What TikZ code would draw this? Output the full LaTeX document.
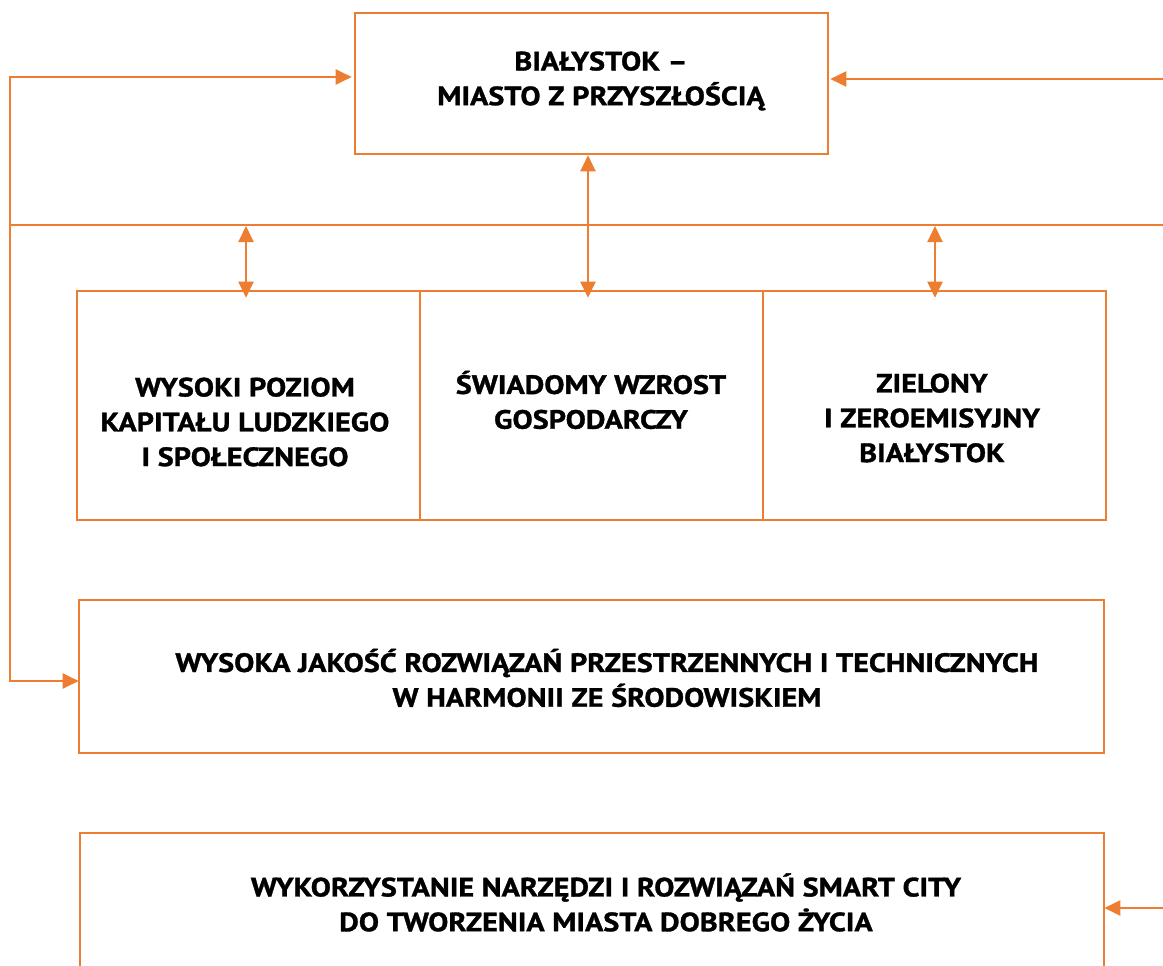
\documentclass[tikz,border=0pt]{standalone}
\usepackage{fontspec}
\setmainfont{PT Sans}[FakeStretch=1.14,BoldFeatures={FakeBold=1.2}]
\usetikzlibrary{arrows.meta}
\definecolor{org}{HTML}{ED7D31}
\begin{document}
\begin{tikzpicture}[x=1pt,y=-1pt,
  box/.style={draw=org,line width=2.6pt,inner sep=0pt},
  lbl/.style={font=\fontsize{26.5}{34.8}\selectfont\bfseries,align=center,inner sep=0pt},
  conn/.style={draw=org,line width=2pt},
  tip/.style={-{Triangle[length=16pt,width=15pt]}},
  dtip/.style={{Triangle[length=16pt,width=15pt]}-{Triangle[length=16pt,width=15pt]}}]
\fill[white] (0,0) rectangle (1163,966);
\useasboundingbox (0,0) rectangle (1163,966);
\clip (0,0) rectangle (1163,966);
% boxes
\node[box,minimum width=473pt,minimum height=141pt] (top) at (591.5,83.5) {};
\node[box,minimum width=343pt,minimum height=229pt] (b1) at (248.5,405.5) {};
\node[box,minimum width=343pt,minimum height=229pt] (b2) at (591.5,405.5) {};
\node[box,minimum width=343pt,minimum height=229pt] (b3) at (934.5,405.5) {};
\node[box,minimum width=1025pt,minimum height=153pt] (b4) at (591.5,676.5) {};
\node[box,minimum width=1024pt,minimum height=200pt] (b5) at (592,933) {};
% texts
\node[lbl] (ttop) at (601,81) {BIAŁYSTOK –\\MIASTO Z PRZYSZŁOŚCIĄ};
\node[lbl] (t1) at (245,422) {WYSOKI POZIOM\\KAPITAŁU LUDZKIEGO\\I SPOŁECZNEGO};
\node[lbl] (t2) at (591,400) {ŚWIADOMY WZROST\\GOSPODARCZY};
\node[lbl] (t3) at (932,418) {ZIELONY\\I ZEROEMISYJNY\\BIAŁYSTOK};
\node[lbl] (t4) at (607,678) {WYSOKA JAKOŚĆ ROZWIĄZAŃ PRZESTRZENNYCH I TECHNICZNYCH\\W HARMONII ZE ŚRODOWISKIEM};
\node[lbl] (t5) at (606,902.5) {WYKORZYSTANIE NARZĘDZI I ROZWIĄZAŃ SMART CITY\\DO TWORZENIA MIASTA DOBREGO ŻYCIA};
% coordinates
\coordinate (L1) at (10,77);
\coordinate (L2) at (10,681);
\coordinate (H0) at (10,225);
\coordinate (H1) at (1163,225);
\coordinate (R1) at (1163,79);
\coordinate (R5) at (1163,908);
\coordinate (a1) at (246,226);
\coordinate (a3) at (935,226);
% connectors
\draw[conn,dtip] ([xshift=-2pt]top.west |- L1) -- (L1) -- (L2) -- ([xshift=1pt]b4.west |- L2);
\draw[conn] (H0) -- (H1);
\draw[conn,tip] (R1) -- ([xshift=1pt]top.east |- R1);
\draw[conn,tip] (R5) -- ([xshift=-1pt]b5.east |- R5);
\draw[conn,dtip,shorten >=-8pt] (a1) -- (a1 |- b1.north);
\draw[conn,dtip,shorten >=-8pt] (a3) -- (a3 |- b3.north);
\draw[conn,dtip,shorten >=-8pt] ([xshift=-3.5pt]top.south) -- ([xshift=-3.5pt]top.south |- b2.north);
\end{tikzpicture}
\end{document}
